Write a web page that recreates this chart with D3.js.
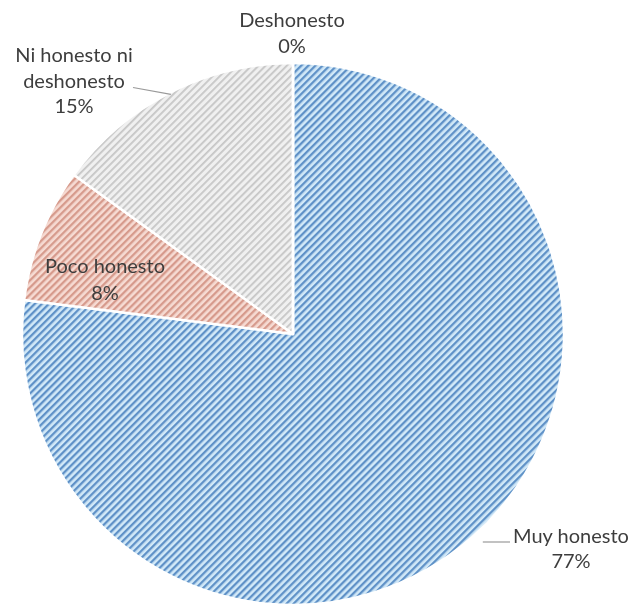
<!DOCTYPE html>
<html>
<head>
<meta charset="utf-8">
<script src="https://cdn.jsdelivr.net/npm/d3@7/dist/d3.min.js"></script>
<style>
  html, body { margin: 0; padding: 0; background: #ffffff; }
  svg { display: block; }
</style>
</head>
<body>
<svg id="chart" width="633" height="604"></svg>
<script>
// Opinion categories and their shares (%)
const categories = ["Muy honesto", "Poco honesto", "Ni honesto ni deshonesto", "Deshonesto"];
const values = [77, 8, 15, 0];
const labelLines = [["Muy honesto"], ["Poco honesto"], ["Ni honesto ni", "deshonesto"], ["Deshonesto"]];

// Hatch colours per slice: background and stripe
const fills = [
  { bg: "#d2e9f8", fg: "#5e91c7" },
  { bg: "#f6dbd3", fg: "#d69a8c" },
  { bg: "#f0f0f0", fg: "#c6c6c6" },
  { bg: "#f0f0f0", fg: "#c6c6c6" }
];

const cx = 293, cy = 334, R = 271;

const svg = d3.select("#chart");
const defs = svg.append("defs");

fills.forEach((f, i) => {
  const p = defs.append("pattern")
    .attr("id", "hatch" + i)
    .attr("patternUnits", "userSpaceOnUse")
    .attr("width", 5).attr("height", 5)
    .attr("patternTransform", "rotate(45)");
  p.append("rect").attr("width", 5).attr("height", 5).attr("fill", f.bg);
  p.append("rect").attr("x", 0).attr("y", 0)
    .attr("width", i >= 2 ? 1.8 : 2.3).attr("height", 5).attr("fill", f.fg);
});

const blur = defs.append("filter").attr("id", "soft");
blur.append("feGaussianBlur").attr("stdDeviation", 0.45);

const pie = d3.pie().sort(null).value(d => d)
  .startAngle(0).endAngle(2 * Math.PI);
const arcs = pie(values);
const arc = d3.arc().innerRadius(0).outerRadius(R);

const g = svg.append("g").attr("transform", `translate(${cx},${cy})`);

g.append("g").attr("filter", "url(#soft)")
  .selectAll("path")
  .data(arcs)
  .join("path")
  .attr("d", arc)
  .attr("fill", (d, i) => `url(#hatch${i})`)
  .attr("stroke", "#ffffff")
  .attr("stroke-width", 2.5)
  .attr("stroke-linejoin", "round");

// Point on a circle of radius r at angle a (clockwise from 12 o'clock)
const polar = (a, r) => [Math.sin(a) * r, -Math.cos(a) * r];
const mid = d => (d.startAngle + d.endAngle) / 2;

// Label placement relative to the pie centre (first baseline, line step)
const labelPos = [
  { x: 278, y: 209, step: 25 },
  { x: -188, y: -61, step: 27 },
  { x: -219, y: -272, step: 25.5 },
  { x: -1, y: -307, step: 26 }
];

const fontSize = 20;
const textColor = "#3e3e3e";

const labels = g.append("g").attr("filter", "url(#soft)")
  .attr("font-family", "Lato, 'Open Sans', sans-serif")
  .attr("font-size", fontSize)
  .attr("fill", textColor)
  .attr("text-anchor", "middle");

arcs.forEach((d, i) => {
  const pos = labelPos[i];
  const lines = labelLines[i].concat([d3.format(".0f")(values[i]) + "%"]);
  const t = labels.append("text").attr("x", pos.x).attr("y", pos.y);
  lines.forEach((ln, k) => {
    t.append("tspan").attr("x", pos.x).attr("dy", k === 0 ? 0 : pos.step).text(ln);
  });
});

// Leader lines from labels to their slices
const leaders = g.append("g").attr("filter", "url(#soft)")
  .attr("stroke", "#9a9a9a").attr("stroke-width", 1.2).attr("fill", "none");

// Muy honesto: short horizontal rule left of its label
{
  const d = arcs[0];
  const p = polar(mid(d), R + 16);
  leaders.append("line")
    .attr("x1", p[0]).attr("y1", labelPos[0].y - 1)
    .attr("x2", labelPos[0].x - 61).attr("y2", labelPos[0].y - 1);
}
// Ni honesto ni deshonesto: from label to the slice edge
{
  const d = arcs[2];
  const p = polar(mid(d), R - 2);
  leaders.append("line")
    .attr("x1", labelPos[2].x + 59).attr("y1", labelPos[2].y + labelPos[2].step)
    .attr("x2", p[0]).attr("y2", p[1]);
}
</script>
</body>
</html>
